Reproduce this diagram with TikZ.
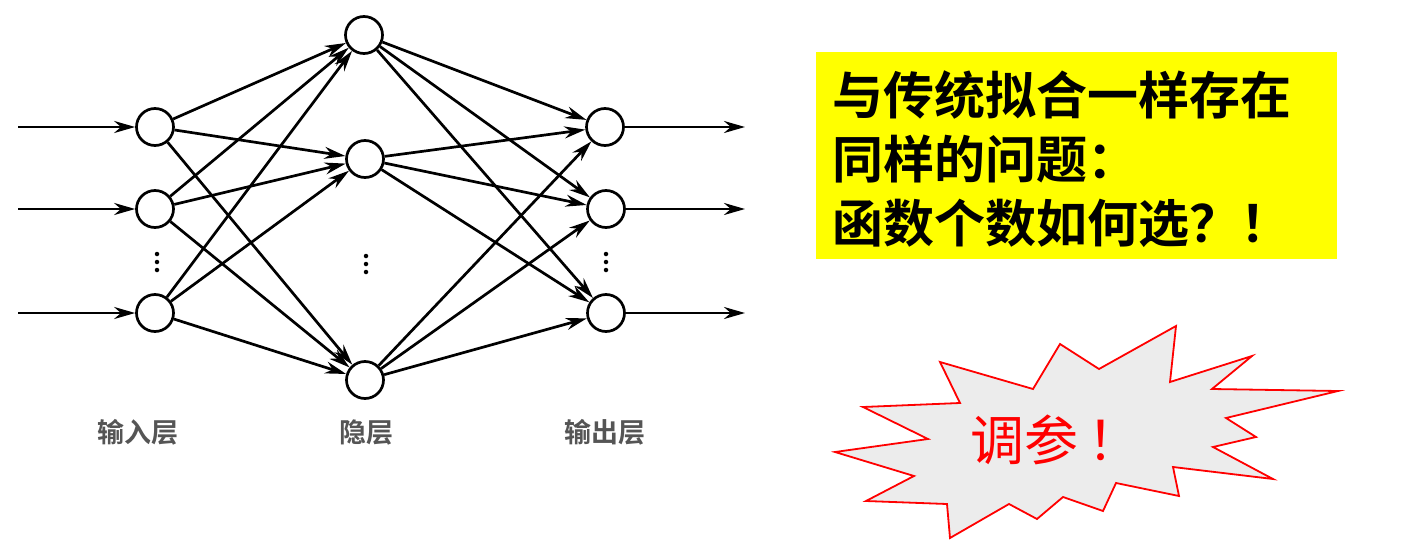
\documentclass[tikz,border=0pt]{standalone}
\usepackage{fontspec}
\usepackage{xcolor}
\usepackage{tikz}
\usetikzlibrary{arrows.meta, positioning, calc}
\newfontfamily\cjk{Noto Sans CJK SC}
\newfontfamily\cjkbold{Noto Sans CJK SC Bold}
\definecolor{burstgray}{RGB}{236,236,236}
\definecolor{labelgray}{RGB}{85,85,85}
\definecolor{noteyellow}{RGB}{255,255,0}

\tikzset{
  neuron/.style={circle, draw, line width=2.7pt, minimum size=37pt, inner sep=0pt, fill=white},
  synapse/.style={line width=2.7pt, -{Stealth[length=21pt, width=12pt]}},
  layerlabel/.style={font=\cjkbold\fontsize{27}{27}\selectfont, text=labelgray},
  dotmark/.style={circle, fill, inner sep=0pt, minimum size=4.5pt}
}

\begin{document}
\begin{tikzpicture}[x=1pt, y=-1pt]
  \useasboundingbox (0,0) rectangle (1410,554);

  % Input layer
  \node[neuron] (in1) at (155,127) {};
  \node[neuron] (in2) at (155,209) {};
  \node[neuron] (in3) at (155,313) {};

  % Hidden layer
  \node[neuron] (hid1) at (364,35) {};
  \node[neuron] (hid2) at (365,159) {};
  \node[neuron] (hid3) at (365,380) {};

  % Output layer
  \node[neuron] (out1) at (605,127) {};
  \node[neuron] (out2) at (606,209) {};
  \node[neuron] (out3) at (606,313) {};

  % Vertical dots between the neurons
  \foreach \x/\y in {157/262, 366/264, 606/262} {
    \foreach \d in {-8,0,8}
      \node[dotmark] at (\x,\y+\d) {};
  }

  % Free ends of the input and output arrows
  \coordinate (src1) at (18,127);
  \coordinate (src2) at (18,209);
  \coordinate (src3) at (18,313);
  \coordinate (dst1) at (745,127);
  \coordinate (dst2) at (745,209);
  \coordinate (dst3) at (745,313);

  % Connections
  \foreach \i in {1,2,3} {
    \draw[synapse] (src\i) -- (in\i);
    \draw[synapse] (out\i) -- (dst\i);
    \foreach \j in {1,2,3} {
      \draw[synapse] (in\i) -- (hid\j);
      \draw[synapse] (hid\i) -- (out\j);
    }
  }

  % Layer labels
  \node[layerlabel] (inlabel) at (138,432) {输入层};
  \node[layerlabel] (hidlabel) at (366,432) {隐层};
  \node[layerlabel] (outlabel) at (605,432) {输出层};

  % Yellow note
  \fill[noteyellow] (816,52) rectangle (1337,259);
  \node[anchor=north west, align=left, inner sep=0pt,
        font=\cjkbold\fontsize{51}{64}\selectfont] (note) at (832,70)
    {与传统拟合一样存在\\同样的问题：\\函数个数如何选？！};

  % Starburst
  \draw[red, line width=1.8pt, fill=burstgray, line join=miter]
    (940,362) -- (960,403) -- (863,407) -- (928,439) -- (835,452) --
    (914,476) -- (866,501) -- (947,504) -- (950,538) -- (1009,504) --
    (1037,519) -- (1063,497) -- (1103,511) -- (1116,483) -- (1179,496) --
    (1173,467) -- (1273,479) -- (1213,447) -- (1256,437) -- (1226,418) --
    (1338,391) -- (1212,389) -- (1252,356) -- (1170,382) -- (1176,326) --
    (1099,369) -- (1060,344) -- (1033,389) -- cycle;
  \node[text=red, font=\cjk\fontsize{54}{54}\selectfont] (tune) at (1056,440) {调参\,！};
\end{tikzpicture}
\end{document}
